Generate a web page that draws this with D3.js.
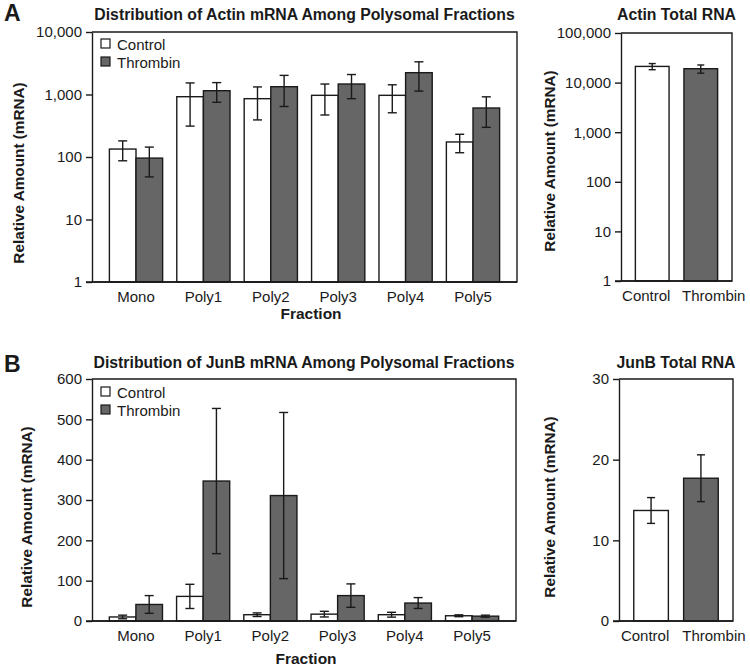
<!DOCTYPE html>
<html><head><meta charset="utf-8">
<script src="https://cdn.jsdelivr.net/npm/d3@7"></script>
<style>
body{margin:0;background:#fff;}
text{font-family:"Liberation Sans",Arial,Helvetica,sans-serif;fill:#1a1a1a;}
</style></head>
<body><svg id="c" width="750" height="668"></svg>
<script>
const fractions = ["Mono","Poly1","Poly2","Poly3","Poly4","Poly5"];
const groups = ["Control","Thrombin"];
// Panel A: Actin (log scale)
const actinControl = [134, 922, 857, 970, 970, 174];
const actinControlErr = [47, 610, 465, 500, 460, 57];
const actinThrombin = [96, 1150, 1333, 1472, 2234, 608];
const actinThrombinErr = [48, 400, 690, 615, 1100, 310];
const actinTotal = [21200, 19050];
const actinTotalErr = [3000, 3600];
const actinTicks = [1, 10, 100, 1000, 10000];
const actinTotalTicks = [1, 10, 100, 1000, 10000, 100000];
// Panel B: JunB (linear)
const junbControl = [10, 61, 15.6, 17, 15.6, 13];
const junbControlErr = [4.5, 30, 4.5, 7, 6, 2.3];
const junbThrombin = [41, 347, 311, 63, 44.5, 12];
const junbThrombinErr = [22, 180, 206, 29, 13.5, 2.5];
const junbTotal = [13.7, 17.7];
const junbTotalErr = [1.6, 2.9];
const junbTicks = [0, 100, 200, 300, 400, 500, 600];
const junbTotalTicks = [0, 10, 20, 30];

const fills = {Control:"#ffffff", Thrombin:"#666666"};
const svg = d3.select("#c");
const fmt = d3.format(",");
const INK = "#1a1a1a";
const FS = "15px";

function panel(opt){
  const g = svg.append("g");
  const x = d3.scaleBand().domain(opt.cats).range([opt.x0, opt.x1]).paddingInner(opt.pi).paddingOuter(opt.po);
  const y = opt.y;
  const sub = d3.scaleBand().domain(opt.series.map(s=>s.name)).range([0, x.bandwidth()]);
  opt.series.forEach(s=>{
    const data = opt.cats.map((c,i)=>({c, v:s.values[i], e:s.err[i]}));
    const bx = d=> opt.single ? x(d.c) : x(d.c)+sub(s.name);
    const bw = opt.single ? x.bandwidth() : sub.bandwidth();
    g.selectAll(null).data(data).enter().append("rect")
      .attr("x", d=>bx(d)).attr("width", bw)
      .attr("y", d=>y(d.v)).attr("height", d=>y(opt.base)-y(d.v))
      .attr("fill", d=> opt.single ? fills[d.c] : fills[s.name])
      .attr("stroke", INK).attr("stroke-width",1.4);
    const eg = g.selectAll(null).data(data).enter().append("g");
    const cx = d=>bx(d)+bw/2;
    eg.append("line").attr("x1",cx).attr("x2",cx)
      .attr("y1",d=>y(d.v-d.e)).attr("y2",d=>y(d.v+d.e))
      .attr("stroke",INK).attr("stroke-width",1.4);
    [d=>d.v-d.e, d=>d.v+d.e].forEach(f=>{
      eg.append("line").attr("x1",d=>cx(d)-opt.cap).attr("x2",d=>cx(d)+opt.cap)
        .attr("y1",d=>y(f(d))).attr("y2",d=>y(f(d)))
        .attr("stroke",INK).attr("stroke-width",1.4);
    });
  });
  const [yb, yt] = [y.range()[0], y.range()[1]];
  g.append("path").attr("d",`M${opt.x0},${yt}H${opt.x1}V${yb}H${opt.x0}`)
    .attr("fill","none").attr("stroke",INK).attr("stroke-width",1.4);
  const ya = g.append("g").attr("transform",`translate(${opt.x0},0)`)
    .call(d3.axisLeft(y).tickValues(opt.ticks).tickFormat(fmt).tickSize(6).tickPadding(4).tickSizeOuter(0));
  ya.select(".domain").attr("stroke",INK).attr("stroke-width",1.4);
  ya.selectAll(".tick line").attr("stroke",INK).attr("stroke-width",1.4);
  ya.selectAll("text").style("font-size",FS).attr("fill",INK).style("font-family",'"Liberation Sans",Arial,sans-serif');
  g.append("line").attr("x1",opt.x0-6).attr("x2",opt.x1).attr("y1",yb).attr("y2",yb).attr("stroke",INK).attr("stroke-width",1.4);
  const xa = g.append("g").attr("transform",`translate(0,${yb})`)
    .call(d3.axisBottom(x).tickSize(0).tickPadding(opt.xpad));
  xa.select(".domain").remove();
  xa.selectAll("text").style("font-size",FS).attr("fill",INK).style("font-family",'"Liberation Sans",Arial,sans-serif');
  if(opt.labelShift){
    xa.selectAll(".tick text").attr("dx", (d,i)=>opt.labelShift[i]);
  }
  g.append("text").attr("x",(opt.x0+opt.x1)/2).attr("y",opt.titleY).attr("text-anchor","middle")
    .style("font-size","15.8px").style("font-weight","bold").text(opt.title);
  g.append("text").attr("transform",`translate(${opt.ylabX},${opt.ylabY}) rotate(-90)`)
    .attr("text-anchor","middle").style("font-size","15.3px").style("font-weight","bold")
    .text("Relative Amount (mRNA)");
  if(opt.xlabel){
    g.append("text").attr("x",opt.xlabX).attr("y",opt.xlabY).attr("text-anchor","middle")
      .style("font-size","15.5px").style("font-weight","bold").text(opt.xlabel);
  }
  if(opt.legend){
    const lg = g.append("g");
    groups.forEach((n,i)=>{
      lg.append("rect").attr("x",opt.x0+9).attr("y",opt.legY+i*18-5).attr("width",9).attr("height",9)
        .attr("fill",fills[n]).attr("stroke",INK).attr("stroke-width",1.2);
      lg.append("text").attr("x",opt.x0+25).attr("y",opt.legY+i*18+5.5)
        .style("font-size",FS).text(n);
    });
  }
}

panel({
  cats: fractions, x0: 92, x1: 517, pi: 0.21, po: 0.258,
  y: d3.scaleLog().domain([1,10000]).range([282,32]), base: 1, ticks: actinTicks,
  series: [{name:"Control", values: actinControl, err: actinControlErr},
           {name:"Thrombin", values: actinThrombin, err: actinThrombinErr}],
  cap: 4.5, xpad: 9, title: "Distribution of Actin mRNA Among Polysomal Fractions", titleY: 20,
  ylabX: 24, ylabY: 173, xlabel: "Fraction", xlabX: 311, xlabY: 319, legend: true, legY: 44
});
panel({
  cats: groups, x0: 621, x1: 732, pi: 0.306, po: 0.296, single: true, labelShift: [-6, 13],
  y: d3.scaleLog().domain([1,100000]).range([281,33]), base: 1, ticks: actinTotalTicks,
  series: [{name:"Total", values: actinTotal, err: actinTotalErr}],
  cap: 3.5, xpad: 9, title: "Actin Total RNA", titleY: 20,
  ylabX: 555, ylabY: 161
});
panel({
  cats: fractions, x0: 92, x1: 516, pi: 0.21, po: 0.258,
  y: d3.scaleLinear().domain([0,600]).range([621,379]), base: 0, ticks: junbTicks,
  series: [{name:"Control", values: junbControl, err: junbControlErr},
           {name:"Thrombin", values: junbThrombin, err: junbThrombinErr}],
  cap: 4.5, xpad: 9, title: "Distribution of JunB mRNA Among Polysomal Fractions", titleY: 368,
  ylabX: 32, ylabY: 517, xlabel: "Fraction", xlabX: 306, xlabY: 664, legend: true, legY: 392
});
panel({
  cats: groups, x0: 619, x1: 733, pi: 0.306, po: 0.296, single: true, labelShift: [-6, 13],
  y: d3.scaleLinear().domain([0,30]).range([621,379]), base: 0, ticks: junbTotalTicks,
  series: [{name:"Total", values: junbTotal, err: junbTotalErr}],
  cap: 4, xpad: 9, title: "JunB Total RNA", titleY: 368,
  ylabX: 555, ylabY: 507
});
svg.append("text").attr("x",4).attr("y",21).style("font-size","23px").style("font-weight","bold").text("A");
svg.append("text").attr("x",4).attr("y",372).style("font-size","23px").style("font-weight","bold").text("B");
</script></body></html>
